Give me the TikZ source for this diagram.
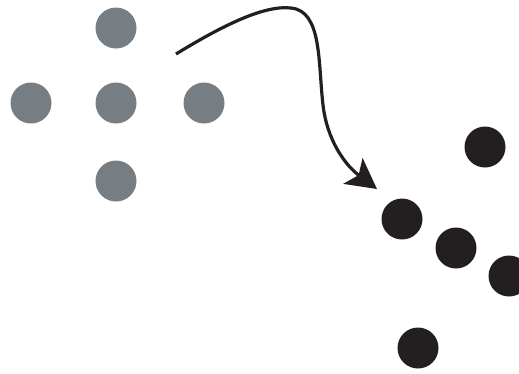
\documentclass[tikz,border=0pt]{standalone}
\usetikzlibrary{arrows.meta}
\definecolor{dotgray}{HTML}{767E83}
\definecolor{dotblack}{HTML}{231F20}
\begin{document}
\begin{tikzpicture}[x=1pt,y=-1pt,
  gdot/.style={circle,fill=dotgray,inner sep=0pt,minimum size=41pt},
  bdot/.style={circle,fill=dotblack,inner sep=0pt,minimum size=41pt},
  movearrow/.style={draw=dotblack,line width=3.2pt,-{Stealth[length=30pt,width=32pt,inset=7pt]}}]
\useasboundingbox (0,0) rectangle (519,373);
\begin{scope}
\clip (0,0) rectangle (519,373);
\node[gdot] (g1) at (116,28) {};
\node[gdot] (g2) at (31,103) {};
\node[gdot] (g3) at (116,103) {};
\node[gdot] (g4) at (204,103) {};
\node[gdot] (g5) at (116,181) {};
\node[bdot] (b1) at (485,147) {};
\node[bdot] (b2) at (402,219) {};
\node[bdot] (b3) at (456,248) {};
\node[bdot] (b4) at (509,276) {};
\node[bdot] (b5) at (418,348) {};
\coordinate (s) at (176,54);
\coordinate (top) at (291,8);
\coordinate (mid) at (323,105);
\coordinate (e) at (377,189);
\draw[movearrow] (s) .. controls (225,24) and (265,5) .. (top)
  .. controls (322,11) and (318,62) .. (mid)
  .. controls (327,140) and (345,165) .. (e);
\end{scope}
\end{tikzpicture}
\end{document}
